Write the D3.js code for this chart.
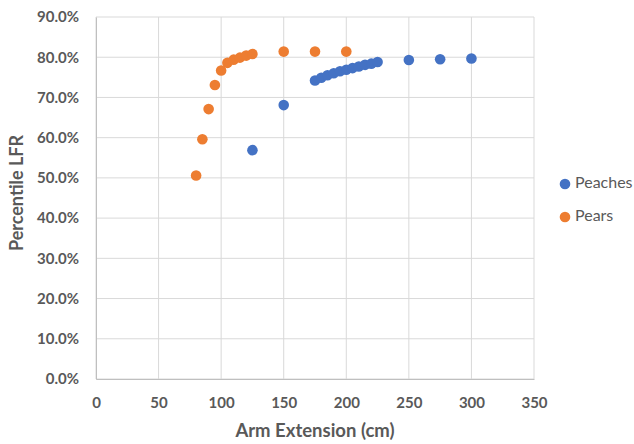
<!DOCTYPE html>
<html>
<head>
<meta charset="utf-8">
<script src="https://cdn.jsdelivr.net/npm/d3@7"></script>
<style>
  html, body { margin: 0; padding: 0; background: #fff; }
  svg { display: block; }
</style>
</head>
<body>
<svg id="chart" width="634" height="444"></svg>
<script>
const peachX = [125, 150, 175, 180, 185, 190, 195, 200, 205, 210, 215, 220, 225, 250, 275, 300];
const peachY = [0.569, 0.681, 0.742, 0.749, 0.755, 0.760, 0.765, 0.769, 0.773, 0.777, 0.781, 0.784, 0.788, 0.793, 0.795, 0.797];
const pearX = [80, 85, 90, 95, 100, 105, 110, 115, 120, 125, 150, 175, 200];
const pearY = [0.506, 0.596, 0.671, 0.731, 0.767, 0.786, 0.794, 0.799, 0.804, 0.808, 0.814, 0.814, 0.814];
const xTicks = [0, 50, 100, 150, 200, 250, 300, 350];
const yTicks = [0, 0.1, 0.2, 0.3, 0.4, 0.5, 0.6, 0.7, 0.8, 0.9];
const seriesNames = ["Peaches", "Pears"];
const seriesColors = ["#4472C4", "#ED7D31"];

(function () {
const svg = d3.select("#chart");
const pl = 96, pr = 534, pt = 17, pb = 379;
const x = d3.scaleLinear().domain([0, 350]).range([pl, pr]);
const y = d3.scaleLinear().domain([0, 0.9]).range([pb, pt]);
const textColor = "#595959";
const font = "Lato, 'Open Sans', sans-serif";

// gridlines
svg.append("g").selectAll("line").data(yTicks).join("line")
  .attr("x1", pl).attr("x2", pr)
  .attr("y1", d => y(d)).attr("y2", d => y(d))
  .attr("stroke", "#d9d9d9").attr("stroke-width", 1);
svg.append("g").selectAll("line").data(xTicks).join("line")
  .attr("x1", d => x(d)).attr("x2", d => x(d))
  .attr("y1", pt).attr("y2", pb)
  .attr("stroke", "#d9d9d9").attr("stroke-width", 1);

// axes
const xAxis = svg.append("g").attr("transform", `translate(0,${pb})`)
  .call(d3.axisBottom(x).tickValues(xTicks).tickSize(0).tickPadding(18).tickFormat(d3.format("d")));
xAxis.select(".domain").attr("stroke", "#bfbfbf");
xAxis.selectAll("text").attr("fill", textColor).style("font-family", font)
  .style("font-size", "15px").style("font-weight", "bold");

const yAxis = svg.append("g").attr("transform", `translate(${pl},0)`)
  .call(d3.axisLeft(y).tickValues(yTicks).tickSize(0).tickPadding(17).tickFormat(d3.format(".1%")));
yAxis.select(".domain").attr("stroke", "#bfbfbf");
yAxis.selectAll("text").attr("fill", textColor).style("font-family", font)
  .style("font-size", "15px").style("font-weight", "bold");

// axis titles
svg.append("text").attr("x", (pl + pr) / 2).attr("y", 432)
  .attr("text-anchor", "middle").attr("dominant-baseline", "middle")
  .attr("fill", textColor).style("font-family", font).style("font-size", "18.5px").style("font-weight", "bold")
  .text("Arm Extension (cm)");
svg.append("text").attr("transform", `translate(18,193) rotate(-90)`)
  .attr("text-anchor", "middle").attr("dominant-baseline", "middle")
  .attr("fill", textColor).style("font-family", font).style("font-size", "18px").style("font-weight", "bold")
  .text("Percentile LFR");

// points
const series = [
  peachX.map((d, i) => ({ x: d, y: peachY[i] })),
  pearX.map((d, i) => ({ x: d, y: pearY[i] }))
];
series.forEach((pts, si) => {
  svg.append("g").selectAll("circle").data(pts).join("circle")
    .attr("cx", d => x(d.x)).attr("cy", d => y(d.y)).attr("r", 5.3)
    .attr("fill", seriesColors[si]);
});

// legend
const legend = svg.append("g");
seriesNames.forEach((name, i) => {
  const ly = 184 + i * 33;
  legend.append("circle").attr("cx", 565).attr("cy", ly).attr("r", 5.3).attr("fill", seriesColors[i]);
  legend.append("text").attr("x", 575).attr("y", ly).attr("dominant-baseline", "middle")
    .attr("fill", textColor).style("font-family", font).style("font-size", "16px")
    .text(name);
});
})();
</script>
</body>
</html>
